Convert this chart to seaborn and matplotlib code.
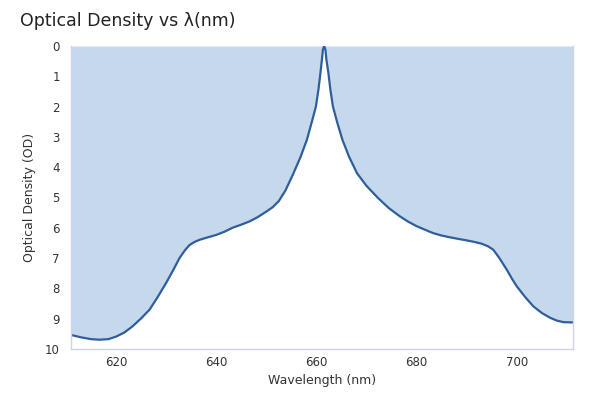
import matplotlib
matplotlib.use("Agg")
import matplotlib.pyplot as plt
import seaborn as sns
import pandas as pd

wavelength = [611.0, 613.0, 615.0, 616.7, 618.5, 620.0, 621.7, 623.3, 625.0, 626.7, 628.3, 630.0,
              631.5, 632.7, 633.8, 634.7, 635.7, 636.7, 638.3, 640.0, 641.7, 643.3, 645.0, 646.7,
              648.3, 650.0, 651.3, 652.5, 653.8, 655.3, 656.8, 658.1, 659.1, 659.9, 660.4, 660.8,
              661.1, 661.3, 661.55, 661.8, 662.0, 662.4, 662.8, 663.3, 664.2, 665.2, 666.5, 668.1,
              670.0, 672.3, 674.5, 676.7, 678.3, 680.0, 681.7,
              683.3, 685.0, 686.7, 688.3, 690.0, 691.5, 693.0, 694.3, 695.3, 696.5, 698.0, 699.0,
              700.0, 701.7, 703.3, 705.0, 706.7, 708.0, 709.3, 711.2]
optical_density = [9.54, 9.62, 9.68, 9.70, 9.68, 9.60, 9.46, 9.26, 9.00, 8.71, 8.30, 7.83,
                   7.38, 7.00, 6.74, 6.57, 6.47, 6.40, 6.32, 6.24, 6.13, 6.00, 5.90, 5.79,
                   5.65, 5.47, 5.32, 5.12, 4.78, 4.25, 3.68, 3.10, 2.50, 2.00, 1.45, 0.90,
                   0.45, 0.12, 0.00, 0.12, 0.45, 0.90, 1.45, 2.00, 2.55, 3.10, 3.65, 4.20,
                   4.62, 5.02, 5.36, 5.63, 5.80, 5.95, 6.07,
                   6.18, 6.26, 6.32, 6.37, 6.42, 6.47, 6.53, 6.62, 6.73, 7.00, 7.39, 7.68,
                   7.94, 8.30, 8.60, 8.82, 8.98, 9.07, 9.12, 9.13]
x_ticks = [620, 640, 660, 680, 700]
y_ticks = [0, 1, 2, 3, 4, 5, 6, 7, 8, 9, 10]

df = pd.DataFrame({"Wavelength (nm)": wavelength, "Optical Density (OD)": optical_density})

sns.set_theme(style="white")
plt.rcParams['font.family'] = ['DejaVu Sans']

fig = plt.figure(figsize=(6, 4), dpi=100)
ax = fig.add_axes([0.118, 0.128, 0.837, 0.757])

fill_c = "#c6d8eb"
line_c = "#2f5e9c"
axis_c = "#ccd6eb"
text_c = "#333333"

ax.fill_between(df["Wavelength (nm)"], 0, df["Optical Density (OD)"], color=fill_c, lw=0)
sns.lineplot(data=df, x="Wavelength (nm)", y="Optical Density (OD)", ax=ax,
             color=line_c, lw=1.6, sort=False)

ax.set_xlim(611, 711.2)
ax.set_ylim(10, 0)
ax.set_xticks(x_ticks)
ax.set_yticks(y_ticks)
ax.tick_params(axis="both", labelsize=8.5, colors=text_c)
ax.tick_params(axis="y", length=6, width=1, color=axis_c, pad=2)
ax.tick_params(axis="x", length=0, pad=5)
for s in ["left", "bottom", "right", "top"]:
    ax.spines[s].set_color(axis_c)
    ax.spines[s].set_linewidth(1)
ax.spines["top"].set_visible(False)

ax.set_xlabel("Wavelength (nm)", fontsize=9, color=text_c, labelpad=4)
ax.set_ylabel("Optical Density (OD)", fontsize=9, color=text_c, labelpad=6)
fig.text(0.033, 0.947, "Optical Density vs λ(nm)", fontsize=12.5, color="#222222",
         ha="left", va="center")

fig.savefig("out.png", dpi=100)
